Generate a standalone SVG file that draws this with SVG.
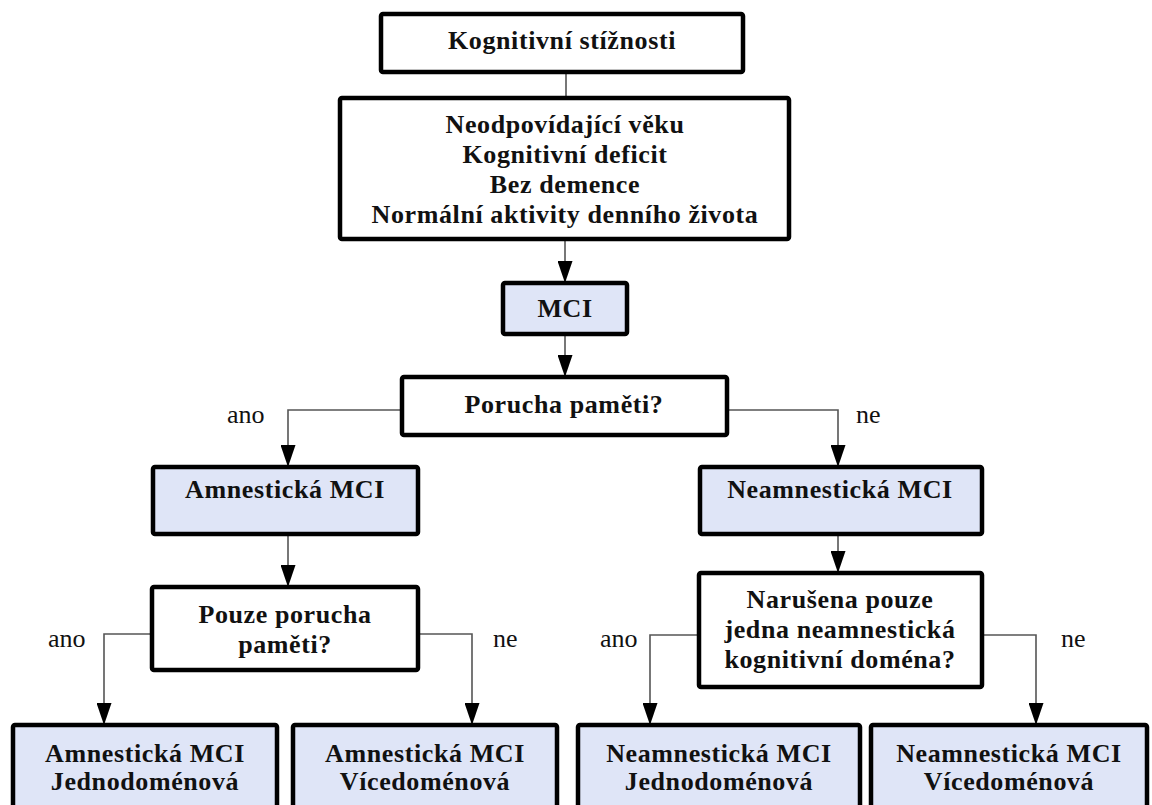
<svg xmlns="http://www.w3.org/2000/svg" width="1152" height="805" viewBox="0 0 1152 805">
<style>
.box{fill:#ffffff;stroke:#000000;stroke-width:4.5}
.hl{fill:#dfe5f7;stroke:#000000;stroke-width:4.5}
.t{font-family:"Liberation Serif","Times New Roman",serif;font-weight:bold;font-size:26px;fill:#111111;text-anchor:middle;letter-spacing:0.6px}
.lbl{font-family:"Liberation Serif","Times New Roman",serif;font-size:26px;fill:#111111}
.c{fill:none;stroke:#555555;stroke-width:1.6}
</style>
<defs>
<marker id="ah" viewBox="0 0 22 15" refX="22" refY="7.5" markerWidth="22" markerHeight="15" markerUnits="userSpaceOnUse" orient="auto">
<path d="M0,0 L22,7.5 L0,15 Z" fill="#000000"/>
</marker>
</defs>
<rect width="1152" height="805" fill="#ffffff"/>
<g id="connectors">
<path class="c" d="M566,72 V98"/>
<path class="c" d="M565,239 V283" marker-end="url(#ah)"/>
<path class="c" d="M565,334 V377" marker-end="url(#ah)"/>
<path class="c" d="M402,410 H288 V467" marker-end="url(#ah)"/>
<path class="c" d="M727,410 H838 V467" marker-end="url(#ah)"/>
<path class="c" d="M288,534 V587" marker-end="url(#ah)"/>
<path class="c" d="M838,534 V573" marker-end="url(#ah)"/>
<path class="c" d="M152,634 H104 V725" marker-end="url(#ah)"/>
<path class="c" d="M418,634 H472 V725" marker-end="url(#ah)"/>
<path class="c" d="M699,635 H650 V725" marker-end="url(#ah)"/>
<path class="c" d="M982,635 H1036 V725" marker-end="url(#ah)"/>
<text class="lbl" x="227" y="423">ano</text>
<text class="lbl" x="856" y="423">ne</text>
<text class="lbl" x="48" y="647">ano</text>
<text class="lbl" x="493" y="647">ne</text>
<text class="lbl" x="600" y="647">ano</text>
<text class="lbl" x="1061" y="647">ne</text>
</g>
<g id="n1">
<rect class="box" x="381" y="14" width="362" height="58" rx="2"/>
<text class="t" x="562" y="49">Kognitivní stížnosti</text>
</g>
<g id="n2">
<rect class="box" x="340" y="98" width="449" height="141" rx="2"/>
<text class="t" x="565" y="133">Neodpovídající věku</text>
<text class="t" x="565" y="163">Kognitivní deficit</text>
<text class="t" x="565" y="193">Bez demence</text>
<text class="t" x="565" y="223">Normální aktivity denního života</text>
</g>
<g id="n3">
<rect class="hl" x="503" y="283" width="124" height="51" rx="2"/>
<text class="t" x="565" y="317">MCI</text>
</g>
<g id="n4">
<rect class="box" x="402" y="377" width="325" height="58" rx="2"/>
<text class="t" x="564" y="413">Porucha paměti?</text>
</g>
<g id="n5">
<rect class="hl" x="153" y="467" width="265" height="67" rx="2"/>
<text class="t" x="285" y="498">Amnestická MCI</text>
</g>
<g id="n6">
<rect class="hl" x="700" y="467" width="282" height="67" rx="2"/>
<text class="t" x="840" y="498">Neamnestická MCI</text>
</g>
<g id="n7">
<rect class="box" x="152" y="587" width="266" height="83" rx="2"/>
<text class="t" x="285" y="623">Pouze porucha</text>
<text class="t" x="285" y="653">paměti?</text>
</g>
<g id="n8">
<rect class="box" x="699" y="573" width="283" height="114" rx="2"/>
<text class="t" x="840" y="608">Narušena pouze</text>
<text class="t" x="840" y="638">jedna neamnestická</text>
<text class="t" x="840" y="668">kognitivní doména?</text>
</g>
<g id="n9">
<rect class="hl" x="13" y="725" width="264" height="95" rx="2"/>
<text class="t" x="145" y="762">Amnestická MCI</text>
<text class="t" x="145" y="790">Jednodoménová</text>
</g>
<g id="n10">
<rect class="hl" x="293" y="725" width="264" height="95" rx="2"/>
<text class="t" x="425" y="762">Amnestická MCI</text>
<text class="t" x="425" y="790">Vícedoménová</text>
</g>
<g id="n11">
<rect class="hl" x="578" y="725" width="282" height="95" rx="2"/>
<text class="t" x="719" y="762">Neamnestická MCI</text>
<text class="t" x="719" y="790">Jednodoménová</text>
</g>
<g id="n12">
<rect class="hl" x="871" y="725" width="276" height="95" rx="2"/>
<text class="t" x="1009" y="762">Neamnestická MCI</text>
<text class="t" x="1009" y="790">Vícedoménová</text>
</g>
</svg>
